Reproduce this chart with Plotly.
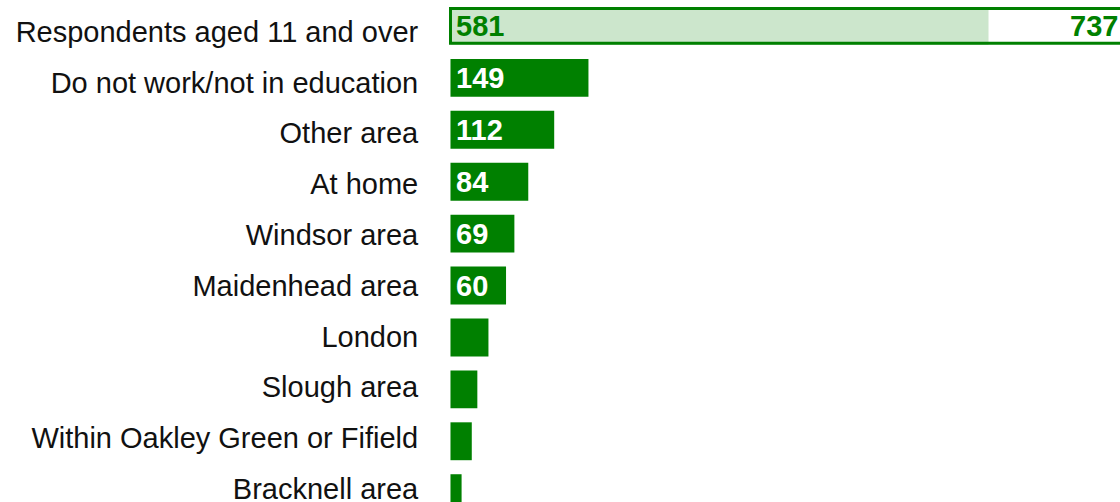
import plotly.graph_objects as go

categories = ["Respondents aged 11 and over", "Do not work/not in education", "Other area",
              "At home", "Windsor area", "Maidenhead area", "London", "Slough area",
              "Within Oakley Green or Fifield", "Bracknell area"]
values = [581, 149, 112, 84, 69, 60, 41, 29, 23, 12]
total = 737
label_min = 60

GREEN = "#008000"
LIGHT = "#cce6cc"
FONT = "Liberation Sans, Arial, Helvetica, sans-serif"

fig = go.Figure()
# light fill of the top (respondents) bar
fig.add_trace(go.Bar(y=[categories[0]], x=[values[0]], orientation="h", width=0.73,
                     marker=dict(color=LIGHT, line=dict(width=0)), hoverinfo="skip"))
# solid green bars
fig.add_trace(go.Bar(y=categories[1:], x=values[1:], orientation="h", width=0.73,
                     marker=dict(color=GREEN, line=dict(width=0)), hoverinfo="skip"))
# outline of total
fig.add_trace(go.Bar(y=[categories[0]], x=[total], orientation="h", width=0.67,
                     marker=dict(color="rgba(0,0,0,0)", line=dict(color=GREEN, width=3)),
                     hoverinfo="skip"))
# invisible carrier trace for the label axis
fig.add_trace(go.Scatter(y=categories, x=[0] * len(categories), yaxis="y2", mode="markers",
                         marker=dict(opacity=0), hoverinfo="skip"))

annotations = []
for i, (c, v) in enumerate(zip(categories, values)):
    if v >= label_min:
        annotations.append(dict(x=0, y=c, xref="x", yref="y", text=f"<b>{v}</b>",
                                showarrow=False, xanchor="left", yanchor="middle",
                                xshift=4, font=dict(family=FONT, size=29,
                                                    color=GREEN if i == 0 else "white")))
annotations.append(dict(x=1, y=categories[0], xref="paper", yref="y", text=f"<b>{total}</b>",
                        showarrow=False, xanchor="right", yanchor="middle", xshift=0,
                        font=dict(family=FONT, size=29, color=GREEN)))

fig.update_layout(
    width=1120, height=502,
    margin=dict(l=449, r=0, t=0, b=0, autoexpand=False),
    paper_bgcolor="white", plot_bgcolor="white",
    barmode="overlay", showlegend=False,
    annotations=annotations,
    font=dict(family=FONT, size=29, color="#111111"),
    yaxis2=dict(type="category", categoryorder="array", categoryarray=categories,
                overlaying="y", side="left", range=[9.258, -0.624],
                showgrid=False, zeroline=False, showline=False, automargin=False,
                ticks="outside", ticklen=24, tickcolor="rgba(0,0,0,0)",
                tickfont=dict(family=FONT, size=29, color="#111111")),
)
fig.update_xaxes(range=[-1.6, 723], visible=False, showgrid=False, zeroline=False,
                 automargin=False)
fig.update_yaxes(selector=dict(overlaying=None), type="category", categoryorder="array",
                 categoryarray=categories)
fig.layout.yaxis.update(range=[9.17, -0.50], showgrid=False, zeroline=False, showline=False,
                        automargin=False, showticklabels=False, ticks="")

fig.write_html("out.html", config={"displayModeBar": False},
               post_script="document.body.style.margin='0px';document.body.style.overflow='hidden';")
